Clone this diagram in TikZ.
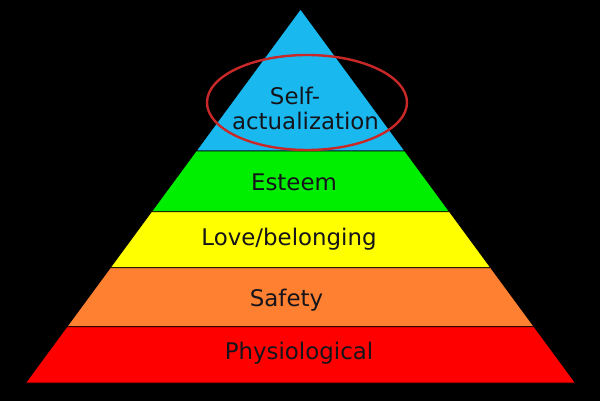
\documentclass[tikz,border=0pt]{standalone}
\usepackage{fontspec}
\setmainfont{DejaVu Sans}
\usetikzlibrary{calc}
\usetikzlibrary{math}

\definecolor{layerblue}{RGB}{25,185,240}
\definecolor{layergreen}{RGB}{0,238,0}
\definecolor{layeryellow}{RGB}{255,255,0}
\definecolor{layerorange}{RGB}{255,128,48}
\definecolor{layerred}{RGB}{255,0,0}
\definecolor{ringred}{RGB}{200,40,40}
\definecolor{labelgray}{RGB}{20,20,26}

\begin{document}
\begin{tikzpicture}[x=1pt,y=-1pt,line width=0.8pt,
  levellabel/.style={anchor=base, inner sep=0pt, text=labelgray,
    font=\fontsize{22.9}{25}\selectfont}]

  \tikzmath{
    \apexx    = 300.5; % x of the top of the pyramid
    \apexy    = 9;     % y of the top of the pyramid
    \basey    = 383;   % y of the base
    \halfbase = 275;   % half width of the base
  }

  % background
  \fill[black] (0,0) rectangle (600,401);

  % corners of the pyramid
  \coordinate (apex) at (\apexx, \apexy);
  \coordinate (L) at (\apexx-\halfbase, \basey);
  \coordinate (R) at (\apexx+\halfbase, \basey);

  % layers, top to bottom
  \foreach \top/\bot/\col in {0/0.3797/layerblue, 0.3797/0.5420/layergreen,
      0.5420/0.6917/layeryellow, 0.6917/0.8495/layerorange,
      0.8495/1/layerred}
    \filldraw[fill=\col, draw=black]
      ($ (apex)!\top!(L) $) -- ($ (apex)!\bot!(L) $)
      -- ($ (apex)!\bot!(R) $) -- ($ (apex)!\top!(R) $) -- cycle;

  % labels
  \node[levellabel] (selfA) at (295, 104.5) {Self-};
  \node[levellabel] (selfB) at (305.5, 129.5) {actualization};
  \node[levellabel] (esteem) at (294, 190.7) {Esteem};
  \node[levellabel] (love) at (289, 245) {Love/belonging};
  \node[levellabel] (safety) at (286.5, 306) {Safety};
  \node[levellabel] (physio) at (299, 359) {Physiological};

  % ring round the top level
  \coordinate (ring) at (307, 102.5);
  \draw[ringred, line width=2.4pt] (ring) ellipse [x radius=100, y radius=47.5];

\end{tikzpicture}
\end{document}
